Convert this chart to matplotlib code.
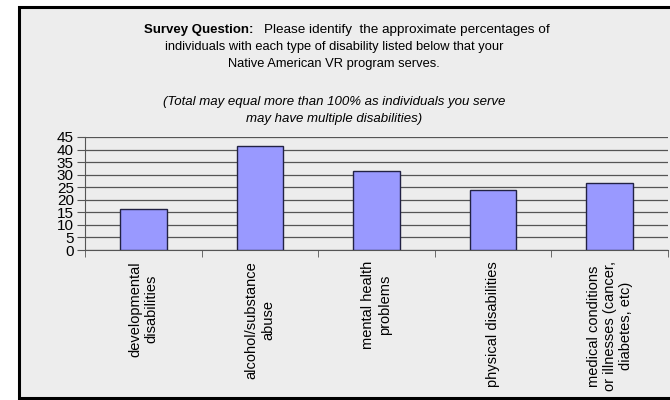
import matplotlib
matplotlib.use('Agg')
import matplotlib.pyplot as plt
from matplotlib.patches import Rectangle

plt.rcParams['font.family'] = ['Liberation Sans', 'DejaVu Sans']

##data

categories = ['developmental\ndisabilities',
              'alcohol/substance\nabuse',
              'mental health\nproblems',
              'physical disabilities',
              'medical conditions\nor illnesses (cancer,\ndiabetes, etc)']
values = [16.3, 41.4, 31.6, 23.8, 26.7]
y_ticks = [0, 5, 10, 15, 20, 25, 30, 35, 40, 45]

W, H = 670, 400
fig = plt.figure(figsize=(W / 100, H / 100), dpi=100)
fig.patch.set_facecolor('white')

##grey panel with black frame (right side runs off the picture)
frame = Rectangle((19 / W, 2 / H), 700 / W, 391 / H, transform=fig.transFigure,
                  facecolor='#ededed', edgecolor='black', linewidth=2.2, zorder=-5)
fig.patches.append(frame)

##title text
fig.text(253 / W, 1 - 30 / H, 'Survey Question:', ha='right', va='center',
         fontsize=9.5, fontweight='bold')
fig.text(264 / W, 1 - 30 / H, 'Please identify  the approximate percentages of',
         ha='left', va='center', fontsize=9.7)
fig.text(334 / W, 1 - 47 / H, 'individuals with each type of disability listed below that your',
         ha='center', va='center', fontsize=9.3)
fig.text(334 / W, 1 - 64 / H, 'Native American VR program serves.',
         ha='center', va='center', fontsize=9.3)
fig.text(334 / W, 1 - 102 / H, '(Total may equal more than 100% as individuals you serve',
         ha='center', va='center', fontsize=9.5, style='italic')
fig.text(334 / W, 1 - 119 / H, 'may have multiple disabilities)',
         ha='center', va='center', fontsize=9.5, style='italic')

##bar chart
ax = fig.add_axes([85 / W, 150 / H, 583 / W, 113 / H])
ax.set_zorder(2)
ax.set_facecolor('none')
x = list(range(len(values)))
ax.bar(x, values, width=0.4, color='#9999ff', edgecolor='#222244', linewidth=1.0, zorder=3)

ax.set_xlim(-0.5, len(values) - 0.5)
ax.set_ylim(0, 45)
ax.set_yticks(y_ticks)
ax.set_yticklabels([str(v) for v in y_ticks], fontsize=11)
ax.yaxis.grid(True, color='#555555', linewidth=0.9, zorder=1)
ax.set_axisbelow(True)

ax.set_xticks(x)
ax.set_xticklabels(categories, rotation=90, fontsize=10.5, linespacing=1.2,
                   ha='center', va='top', multialignment='center')
ax.tick_params(axis='x', length=0, pad=8)
ax.set_xticks([i + 0.5 for i in range(-1, len(values))], minor=True)
ax.tick_params(axis='x', which='minor', length=5, color='#555555', direction='out')
ax.tick_params(axis='y', length=6, pad=2, color='#555555', width=0.8)

for s in ['top', 'right']:
    ax.spines[s].set_visible(False)
ax.spines['left'].set_color('#555555')
ax.spines['bottom'].set_color('#555555')
ax.spines['left'].set_linewidth(0.8)
ax.spines['bottom'].set_linewidth(0.8)

fig.savefig('out.png', dpi=100, facecolor=fig.get_facecolor())
